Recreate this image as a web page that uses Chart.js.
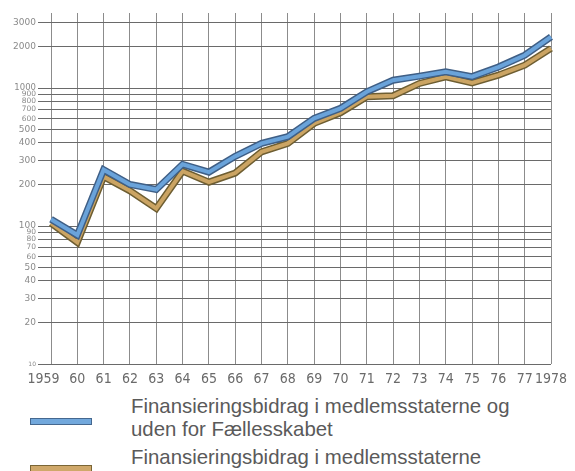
<!DOCTYPE html>
<html>
<head>
<meta charset="utf-8">
<script src="https://cdn.jsdelivr.net/npm/chart.js@4/dist/chart.umd.min.js"></script>
<style>
  html, body { margin: 0; padding: 0; background: #ffffff; }
  #wrap { position: relative; width: 575px; height: 471px; overflow: hidden; background: #fff; }
  #c { position: absolute; left: 0; top: 0; }
  .lg { position: absolute; left: 131px; font-family: "Liberation Sans", Arial, sans-serif; font-size: 20.4px; line-height: 23px; color: #5a5a5a; white-space: nowrap; }
  .sw { position: absolute; left: 30px; width: 60px; height: 5px; }
</style>
</head>
<body>
<div id="wrap">
  <canvas id="c" width="575" height="395"></canvas>
  <div class="sw" style="top:418px;background:#72a8dc;border:1px solid #45688f;"></div>
  <div class="lg" style="top:395px;">Finansieringsbidrag i medlemsstaterne og<br>uden for Fællesskabet</div>
  <div class="sw" style="top:465px;background:#cfa86a;border:1px solid #7a6636;"></div>
  <div class="lg" style="top:446px;">Finansieringsbidrag i medlemsstaterne</div>
</div>
<script>
const years = ["1959","60","61","62","63","64","65","66","67","68","69","70","71","72","73","74","75","76","77","1978"];
const seriesBlue = [112, 86, 256, 200, 184, 280, 246, 320, 397, 444, 603, 713, 940, 1140, 1220, 1310, 1210, 1420, 1730, 2350];
const seriesTan  = [105, 76, 228, 180, 134, 250, 208, 242, 345, 397, 555, 662, 865, 880, 1080, 1205, 1090, 1240, 1465, 1940];
const yTicks = [10, 20, 30, 40, 50, 60, 70, 80, 90, 100, 200, 300, 400, 500, 600, 700, 800, 900, 1000, 2000, 3000];
const labelBlue = "Finansieringsbidrag i medlemsstaterne og uden for Fællesskabet";
const labelTan = "Finansieringsbidrag i medlemsstaterne";

const smallTicks = [60, 70, 80, 90, 600, 700, 800, 900];

new Chart(document.getElementById('c'), {
  type: 'line',
  data: {
    labels: years,
    datasets: [
      { label: labelTan + ' (kant)', data: seriesTan, borderColor: '#6e5e32', borderWidth: 7, pointRadius: 0, tension: 0, order: 4 },
      { label: labelTan, data: seriesTan, borderColor: '#cba463', borderWidth: 4, pointRadius: 0, tension: 0, order: 3 },
      { label: labelBlue + ' (kant)', data: seriesBlue, borderColor: '#3f5f86', borderWidth: 7, pointRadius: 0, tension: 0, order: 2 },
      { label: labelBlue, data: seriesBlue, borderColor: '#6aa3da', borderWidth: 4, pointRadius: 0, tension: 0, order: 1 }
    ]
  },
  options: {
    responsive: false,
    animation: false,
    devicePixelRatio: 1,
    layout: { padding: { left: 0, right: 24, top: 13, bottom: 0 } },
    plugins: { legend: { display: false }, tooltip: { enabled: false } },
    scales: {
      x: {
        offset: false,
        grid: { color: '#8c8c8c', lineWidth: 1, drawTicks: false },
        border: { display: false },
        ticks: {
          autoSkip: false, maxRotation: 0, minRotation: 0, padding: 7,
          color: '#6a6a6a',
          callback: function (v, i) {
            const t = years[i];
            if (i === 0) return t + '\u2009\u2009\u2009\u2009\u2009\u2009';
            return t;
          },
          font: { family: '"DejaVu Sans Condensed", "DejaVu Sans", sans-serif', size: 14 }
        },
        afterFit: s => { s.height = 31; }
      },
      y: {
        type: 'logarithmic',
        min: 10,
        max: 3500,
        afterBuildTicks: s => { s.ticks = yTicks.map(v => ({ value: v })); },
        grid: { color: '#6a6a6a', lineWidth: 1, tickLength: 13 },
        border: { display: false },
        ticks: {
          autoSkip: false, padding: 2,
          color: '#8a8a8a',
          callback: v => String(v),
          font: ctx => {
            const v = ctx.tick ? ctx.tick.value : 0;
            let size = 9;
            if (v === 10) size = 6;
            else if (smallTicks.includes(v)) size = 7.5;
            else if (v === 1000) size = 8.5;
            return { family: '"DejaVu Sans", sans-serif', size: size };
          }
        },
        afterFit: s => { s.width = 51; }
      }
    }
  }
});
</script>
</body>
</html>
